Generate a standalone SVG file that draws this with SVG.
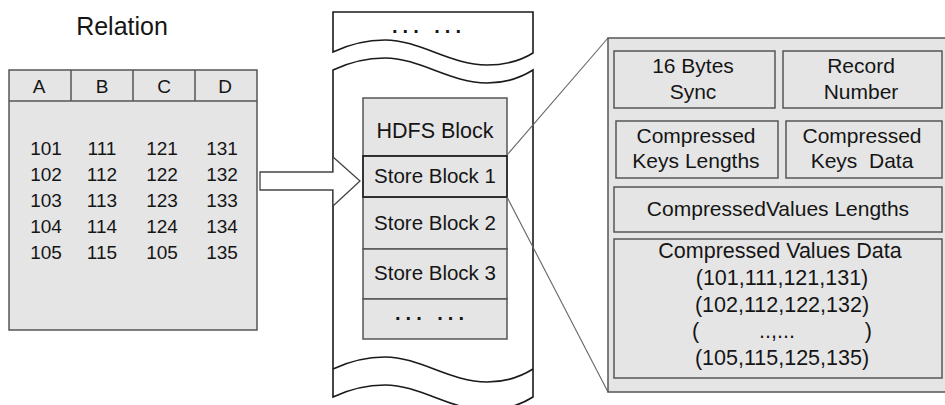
<svg xmlns="http://www.w3.org/2000/svg" width="945" height="405" viewBox="0 0 945 405">
<style>
text{font-family:"Liberation Sans",Arial,sans-serif;fill:#151515;text-anchor:middle}
.box{fill:#e5e5e5;stroke:#555;stroke-width:1.5}
.col{fill:#fff;stroke:#1a1a1a;stroke-width:1.6}
.wave{fill:none;stroke:#1a1a1a;stroke-width:1.6}
.conn{fill:none;stroke:#666;stroke-width:1.1}
.t19{font-size:19px}
.t21{font-size:21px}
.t20{font-size:20.5px}
.dots{font-size:20px;font-weight:bold;letter-spacing:5px}
</style>
<g id="relation">
  <text x="122" y="35" style="font-size:25px">Relation</text>
  <rect class="box" x="9" y="70" width="248" height="260"/>
  <path d="M9,101H257M71,70V101M133,70V101M195,70V101" fill="none" stroke="#555" stroke-width="1.5"/>
  <g class="t19">
    <text x="39" y="93">A</text><text x="102" y="93">B</text><text x="164" y="93">C</text><text x="225" y="93">D</text>
    <text x="46" y="155">101</text><text x="102" y="155">111</text><text x="162" y="155">121</text><text x="222" y="155">131</text>
    <text x="46" y="181">102</text><text x="102" y="181">112</text><text x="162" y="181">122</text><text x="222" y="181">132</text>
    <text x="46" y="207">103</text><text x="102" y="207">113</text><text x="162" y="207">123</text><text x="222" y="207">133</text>
    <text x="46" y="233">104</text><text x="102" y="233">114</text><text x="162" y="233">124</text><text x="222" y="233">134</text>
    <text x="46" y="259">105</text><text x="102" y="259">115</text><text x="162" y="259">105</text><text x="222" y="259">135</text>
  </g>
</g>
<g id="hdfs-file">
  <path class="col" d="M333,12H533V53C525,58 510,65 487,65C450,65 420,40 385,40C368,40 350,44 333,52Z"/>
  <text class="dots" x="429" y="33">... ...</text>
  <path class="col" d="M333,70C350,62 368,58 385,58C420,58 450,83 487,83C510,83 525,75 533,70V397C525,402 510,410 487,410C450,410 420,385 385,385C368,385 350,389 333,397Z"/>
  <path class="wave" d="M333,369C350,361 368,357 385,357C420,357 450,382 487,382C510,382 525,374 533,369"/>
</g>
<g id="hdfs-block">
  <rect class="box" x="363" y="98" width="144" height="58"/>
  <text x="435" y="138" style="font-size:21.5px">HDFS Block</text>
</g>
<g id="store-block-2">
  <rect class="box" x="363" y="197" width="144" height="52"/>
  <text class="t20" x="435" y="230">Store Block 2</text>
</g>
<g id="store-block-3">
  <rect class="box" x="363" y="249" width="144" height="50"/>
  <text class="t20" x="435" y="280">Store Block 3</text>
</g>
<g id="more-blocks">
  <rect class="box" x="363" y="299" width="144" height="40"/>
  <text class="dots" x="432" y="320">... ...</text>
</g>
<g id="store-block-1">
  <rect x="363" y="156" width="144" height="41" fill="#e5e5e5" stroke="#222" stroke-width="1.8"/>
  <text class="t20" x="435" y="183">Store Block 1</text>
</g>
<g id="connectors">
  <polygon points="260,172 333,172 333,157 360,181 333,206 333,190 260,190" fill="#fff" stroke="#444" stroke-width="1.3"/>
  <line class="conn" x1="507" y1="155" x2="608" y2="38"/>
  <line class="conn" x1="507" y1="197" x2="608" y2="392"/>
</g>
<g id="store-block-detail">
  <rect class="box" x="608" y="38" width="345" height="354"/>
  <g id="sync">
    <rect class="box" x="614" y="51" width="161" height="57"/>
    <text class="t21" x="693" y="73">16 Bytes</text>
    <text class="t21" x="693" y="99">Sync</text>
  </g>
  <g id="record-number">
    <rect class="box" x="783" y="51" width="159" height="57"/>
    <text class="t21" x="861" y="73">Record</text>
    <text class="t21" x="861" y="99">Number</text>
  </g>
  <g id="keys-lengths">
    <rect class="box" x="616" y="121" width="162" height="57"/>
    <text class="t21" x="696" y="143">Compressed</text>
    <text class="t21" x="696" y="168">Keys Lengths</text>
  </g>
  <g id="keys-data">
    <rect class="box" x="786" y="121" width="156" height="57"/>
    <text class="t21" x="862" y="143">Compressed</text>
    <text class="t21" x="862" y="168" xml:space="preserve">Keys  Data</text>
  </g>
  <g id="values-lengths">
    <rect class="box" x="614" y="187" width="328" height="45"/>
    <text class="t21" x="778" y="216">CompressedValues Lengths</text>
  </g>
  <g id="values-data">
    <rect class="box" x="614" y="239" width="328" height="139"/>
    <text x="780" y="258" style="font-size:21.5px">Compressed Values Data</text>
    <text x="782" y="285" style="font-size:21.5px">(101,111,121,131)</text>
    <text x="782" y="312" style="font-size:21.5px">(102,112,122,132)</text>
    <text x="692" y="338" style="font-size:21.5px;text-anchor:start">(</text>
    <text x="777" y="338" style="font-size:21.5px">..,...</text>
    <text x="872" y="338" style="font-size:21.5px;text-anchor:end">)</text>
    <text x="782" y="365" style="font-size:21.5px">(105,115,125,135)</text>
  </g>
</g>
</svg>
